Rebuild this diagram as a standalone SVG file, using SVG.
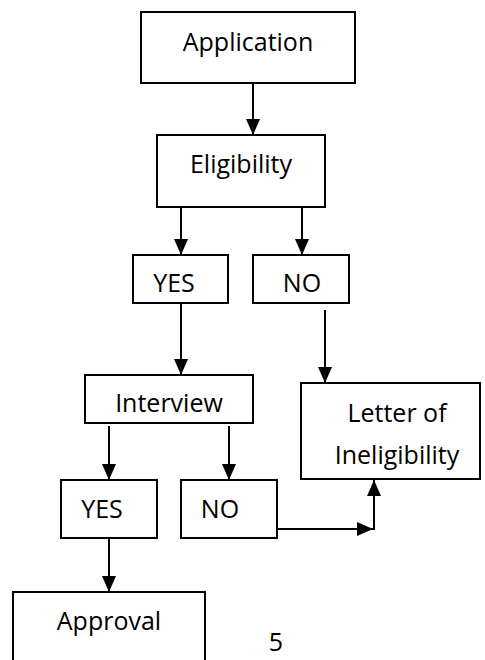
<svg xmlns="http://www.w3.org/2000/svg" width="485" height="660" viewBox="0 0 485 660">
<style>
.box{fill:#fff;stroke:#000;stroke-width:2}
.lbl{font-family:"Open Sans","Noto Sans","Liberation Sans",sans-serif;font-size:25px;fill:#000;text-anchor:middle}
.conn{stroke:#000;stroke-width:2;fill:none;marker-end:url(#ah)}
</style>
<defs>
<marker id="ah" viewBox="0 0 16 14" refX="16" refY="7" markerWidth="16" markerHeight="14" markerUnits="userSpaceOnUse" orient="auto">
<path d="M0,0 L16,7 L0,14 Z" fill="#000"/>
</marker>
</defs>
<rect width="485" height="660" fill="#fff"/>
<g id="connectors">
<line class="conn" x1="253" y1="83" x2="253" y2="135"/>
<line class="conn" x1="181" y1="207" x2="181" y2="255"/>
<line class="conn" x1="302" y1="207" x2="302" y2="255"/>
<line class="conn" x1="181" y1="303" x2="181" y2="375"/>
<line class="conn" x1="325" y1="310" x2="325" y2="383"/>
<line class="conn" x1="109" y1="426" x2="109" y2="480"/>
<line class="conn" x1="229" y1="426" x2="229" y2="480"/>
<line class="conn" x1="277" y1="529" x2="373" y2="529"/>
<line class="conn" x1="374" y1="530" x2="374" y2="480"/>
<line class="conn" x1="109" y1="538" x2="109" y2="592"/>
</g>
<g id="application"><rect class="box" x="141" y="12" width="214" height="71"/><text class="lbl" x="248" y="51">Application</text></g>
<g id="eligibility"><rect class="box" x="157" y="135" width="168" height="72"/><text class="lbl" x="241" y="173">Eligibility</text></g>
<g id="yes1"><rect class="box" x="133" y="255" width="95" height="48"/><text class="lbl" x="174" y="292">YES</text></g>
<g id="no1"><rect class="box" x="253" y="255" width="96" height="48"/><text class="lbl" x="302" y="292">NO</text></g>
<g id="interview"><rect class="box" x="85" y="375" width="168" height="48"/><text class="lbl" x="169" y="412">Interview</text></g>
<g id="letter"><rect class="box" x="301" y="383" width="179" height="96"/><text class="lbl" x="397" y="422">Letter of</text><text class="lbl" x="397" y="464">Ineligibility</text></g>
<g id="yes2"><rect class="box" x="61" y="480" width="96" height="58"/><text class="lbl" x="102" y="518">YES</text></g>
<g id="no2"><rect class="box" x="181" y="480" width="96" height="58"/><text class="lbl" x="220" y="518">NO</text></g>
<g id="approval"><rect class="box" x="13" y="592" width="192" height="80"/><text class="lbl" x="109" y="630">Approval</text></g>
<text class="lbl" x="276" y="651">5</text>
</svg>
